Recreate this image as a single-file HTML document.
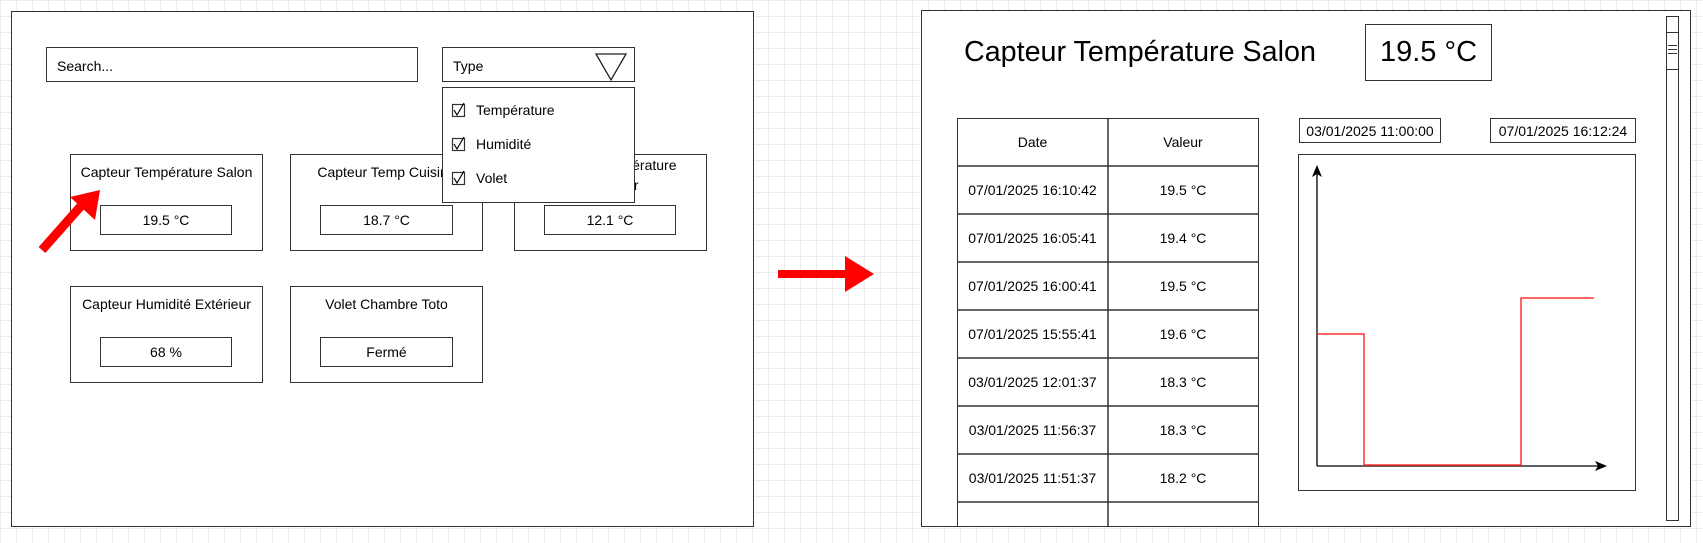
<!DOCTYPE html>
<html><head><meta charset="utf-8"><style>
*{margin:0;padding:0;box-sizing:border-box}
body{width:1703px;height:543px;overflow:hidden;position:relative;font-family:"Liberation Sans",Arial,sans-serif;color:#000;
background-color:#fff;background-image:linear-gradient(#ececec 1px,transparent 1px),linear-gradient(90deg,#ececec 1px,transparent 1px);background-size:16px 16px}
.b{position:absolute;border:1.5px solid #333;background:#fff}
.t{position:absolute;font-size:14px;text-align:center;white-space:nowrap}
.c{display:flex;align-items:center;justify-content:center;font-size:14px}
</style></head><body>
<!-- left panel -->
<div class="b" style="left:11px;top:11px;width:743px;height:516px"></div>
<div class="b" style="left:46px;top:47px;width:372px;height:35px;font-size:14px;padding:10px 0 0 10px">Search...</div>
<div class="b" style="left:442px;top:47px;width:193px;height:35px;font-size:14px;padding:10px 0 0 10px">Type</div>
<svg style="position:absolute;left:0;top:0" width="760" height="543"><polygon points="596,54 626,54 611,80" fill="none" stroke="#222" stroke-width="1.3"/></svg>

<div class="b" style="left:70px;top:154px;width:193px;height:97px"></div>
<div class="t" style="left:70px;top:164px;width:193px">Capteur Température Salon</div>
<div class="b c" style="left:100px;top:205px;width:132px;height:30px">19.5 °C</div>

<div class="b" style="left:290px;top:154px;width:193px;height:97px"></div>
<div class="t" style="left:290px;top:164px;width:193px">Capteur Temp Cuisine</div>
<div class="b c" style="left:320px;top:205px;width:133px;height:30px">18.7 °C</div>

<div class="b" style="left:514px;top:154px;width:193px;height:97px"></div>
<div class="t" style="left:514px;top:155px;width:193px;line-height:20px">Capteur Température<br>Extérieur</div>
<div class="b c" style="left:544px;top:205px;width:132px;height:30px">12.1 °C</div>

<div class="b" style="left:70px;top:286px;width:193px;height:97px"></div>
<div class="t" style="left:70px;top:296px;width:193px">Capteur Humidité Extérieur</div>
<div class="b c" style="left:100px;top:337px;width:132px;height:30px">68 %</div>

<div class="b" style="left:290px;top:286px;width:193px;height:97px"></div>
<div class="t" style="left:290px;top:296px;width:193px">Volet Chambre Toto</div>
<div class="b c" style="left:320px;top:337px;width:133px;height:30px">Fermé</div>

<div class="b" style="left:442px;top:87px;width:193px;height:116px"></div>
<div class="t" style="left:476px;top:102px;text-align:left">Température</div>
<div class="t" style="left:476px;top:136px;text-align:left">Humidité</div>
<div class="t" style="left:476px;top:170px;text-align:left">Volet</div>
<svg style="position:absolute;left:0;top:0" width="1703" height="543">
<g fill="#fff" stroke="#333" stroke-width="1.2">
<rect x="452.5" y="104.5" width="12" height="12"/><rect x="452.5" y="138.5" width="12" height="12"/><rect x="452.5" y="172.5" width="12" height="12"/></g>
<g fill="none" stroke="#000" stroke-width="1.2">
<path d="M454 110 l3 5 l7 -12"/><path d="M454 144 l3 5 l7 -12"/><path d="M454 178 l3 5 l7 -12"/></g>
<line x1="42" y1="250" x2="88" y2="198" stroke="#f00" stroke-width="9"/>
<polygon points="100,190 70,197 95,220" fill="#f00"/>
<line x1="778" y1="274" x2="850" y2="274" stroke="#f00" stroke-width="8"/>
<polygon points="845,256 874,274 845,292" fill="#f00"/>
</svg>

<!-- right panel -->
<div class="b" style="left:921px;top:10px;width:770px;height:517px;overflow:hidden">
  <div style="position:absolute;left:35px;top:107px;width:302px;height:420px;border:1.5px solid #333"></div>
  <svg style="position:absolute;left:-922px;top:-11px" width="1703" height="543">
  <g stroke="#333" stroke-width="1.5">
  <line x1="1108" y1="118" x2="1108" y2="543"/>
  <line x1="957" y1="166" x2="1258" y2="166"/>
  <line x1="957" y1="214" x2="1258" y2="214"/>
  <line x1="957" y1="262" x2="1258" y2="262"/>
  <line x1="957" y1="310" x2="1258" y2="310"/>
  <line x1="957" y1="358" x2="1258" y2="358"/>
  <line x1="957" y1="406" x2="1258" y2="406"/>
  <line x1="957" y1="454" x2="1258" y2="454"/>
  <line x1="957" y1="502" x2="1258" y2="502"/>
  </g></svg>
</div>
<div class="b" style="left:1666px;top:16px;width:13px;height:505px"></div>
<div class="b" style="left:1666px;top:32px;width:13px;height:38px"></div>
<svg style="position:absolute;left:1666px;top:40px" width="13" height="20"><g stroke="#333" stroke-width="1"><line x1="2" y1="5.5" x2="11" y2="5.5"/><line x1="2" y1="9.5" x2="11" y2="9.5"/><line x1="2" y1="13.5" x2="11" y2="13.5"/></g></svg>
<div class="t" style="left:964px;top:36px;font-size:28.7px">Capteur Température Salon</div>
<div class="b c" style="left:1365px;top:24px;width:127px;height:57px;font-size:29px">19.5 °C</div>

<div style="position:absolute;left:957px;top:118px;width:151px;font-size:14px;text-align:center;line-height:48px">Date<br>07/01/2025 16:10:42<br>07/01/2025 16:05:41<br>07/01/2025 16:00:41<br>07/01/2025 15:55:41<br>03/01/2025 12:01:37<br>03/01/2025 11:56:37<br>03/01/2025 11:51:37</div>
<div style="position:absolute;left:1108px;top:118px;width:150px;font-size:14px;text-align:center;line-height:48px">Valeur<br>19.5 °C<br>19.4 °C<br>19.5 °C<br>19.6 °C<br>18.3 °C<br>18.3 °C<br>18.2 °C</div>

<div class="b c" style="left:1299px;top:118px;width:142px;height:25px">03/01/2025 11:00:00</div>
<div class="b c" style="left:1490px;top:118px;width:146px;height:25px">07/01/2025 16:12:24</div>
<div class="b" style="left:1298px;top:154px;width:338px;height:337px"></div>
<svg style="position:absolute;left:0;top:0" width="1703" height="543">
<line x1="1317" y1="466" x2="1317" y2="172" stroke="#000" stroke-width="1.3"/>
<polygon points="1317,165 1312,177 1317,174 1322,177" fill="#000"/>
<line x1="1317" y1="466" x2="1600" y2="466" stroke="#000" stroke-width="1.3"/>
<polygon points="1607,466 1595,461 1598,466 1595,471" fill="#000"/>
<polyline points="1317,334 1364,334 1364,465 1521,465 1521,298 1594,298" fill="none" stroke="#f33" stroke-width="1.5"/>
</svg>
</body></html>
